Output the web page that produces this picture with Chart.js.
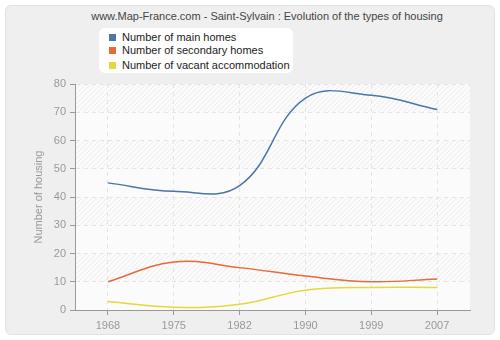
<!DOCTYPE html>
<html>
<head>
<meta charset="utf-8">
<script src="https://cdn.jsdelivr.net/npm/chart.js@4/dist/chart.umd.min.js"></script>
<style>
  html, body { margin: 0; padding: 0; background: #fff; }
  #wrap { position: relative; width: 500px; height: 340px; }
  #panel { position: absolute; left: 5px; top: 5px; width: 488px; height: 328px;
           background: #efefef; border: 1px solid #e2e2e2; border-radius: 6px; }
  #title { position: absolute; left: 0; top: 10px; width: 534px; text-align: center;
           font: 11px "Liberation Sans", Arial, sans-serif; color: #444; }
  #legend { position: absolute; left: 99px; top: 28px; width: 194px; height: 45px;
            background: #fff; border-radius: 6px; font: 11px "Liberation Sans", Arial, sans-serif; color: #222; }
  #legend div { position: absolute; left: 10px; white-space: nowrap; }
  #legend span { display: inline-block; width: 7px; height: 7px; margin-right: 6px; vertical-align: 0px; }
  canvas { position: absolute; left: 0; top: 0; }
</style>
</head>
<body>
<div id="wrap">
  <div id="panel"></div>
  <div id="title">www.Map-France.com - Saint-Sylvain : Evolution of the types of housing</div>
  <div id="legend"></div>
  <canvas id="myChart" width="500" height="340"></canvas>
</div>
<script>
var years = ["1968", "1975", "1982", "1990", "1999", "2007"];
var mainHomes = [45, 42, 44, 75, 76, 71];
var secondaryHomes = [10, 17, 15, 12, 10, 11];
var vacantHomes = [3, 1, 2, 7, 8, 8];
var seriesNames = ["Number of main homes", "Number of secondary homes", "Number of vacant accommodation"];
var seriesColors = ["#4a76a8", "#e8693a", "#e6d83c"];

// striped, hatched plot background
var plotBackground = {
    id: 'plotBackground',
    beforeDraw(chart) {
        var ctx = chart.ctx, a = chart.chartArea, y = chart.scales.y;
        ctx.save();
        ctx.fillStyle = '#fbfbfb';
        ctx.fillRect(a.left, a.top, a.right - a.left, a.bottom - a.top);
        var p = document.createElement('canvas');
        p.width = 5; p.height = 5;
        var pc = p.getContext('2d');
        pc.strokeStyle = '#ececec';
        pc.lineWidth = 1;
        pc.beginPath();
        pc.moveTo(0, 5); pc.lineTo(5, 0);
        pc.moveTo(-1, 1); pc.lineTo(1, -1);
        pc.moveTo(4, 6); pc.lineTo(6, 4);
        pc.stroke();
        ctx.fillStyle = ctx.createPattern(p, 'repeat');
        for (var v = 80; v > 0; v -= 20) {
            var top = y.getPixelForValue(v), bot = y.getPixelForValue(v - 10);
            ctx.fillRect(a.left, top, a.right - a.left, bot - top);
        }
        ctx.restore();
    }
};

var data = {
    labels: years,
    datasets: [mainHomes, secondaryHomes, vacantHomes].map(function (vals, i) {
        return {
            label: seriesNames[i],
            data: vals,
            borderColor: seriesColors[i],
            backgroundColor: seriesColors[i],
            borderWidth: 1.5,
            pointRadius: 0,
            tension: 0.4,
            fill: false
        };
    })
};

var font = { family: '"Liberation Sans", Arial, sans-serif', size: 11 };

var chart = new Chart(document.getElementById('myChart').getContext('2d'), {
    type: 'line',
    data: data,
    plugins: [plotBackground],
    options: {
        responsive: false,
        animation: false,
        layout: { padding: { top: 84, right: 30, left: 32, bottom: 0 } },
        plugins: {
            legend: { display: false },
            title: { display: false },
            tooltip: { enabled: false }
        },
        scales: {
            x: {
                offset: true,
                grid: { offset: false, color: '#e4e4e4', tickColor: '#999', tickLength: 5, tickBorderDash: [] },
                border: { color: '#999', dash: [4, 4] },
                ticks: { color: '#999', font: font, padding: 4 },
                afterFit: function (s) { s.height = 30; }
            },
            y: {
                min: 0,
                max: 80,
                ticks: { stepSize: 10, color: '#999', font: font, padding: 4 },
                grid: { color: '#e4e4e4', tickColor: '#999', tickLength: 5, tickBorderDash: [] },
                border: { color: '#999', dash: [4, 4] },
                title: { display: true, text: 'Number of housing', color: '#999', font: font, padding: 0 },
                afterFit: function (s) { s.width = 43; }
            }
        }
    }
});

// legend from the chart's own datasets
var legend = document.getElementById('legend');
var rowTops = [3, 16, 31];
chart.data.datasets.forEach(function (ds, i) {
    var row = document.createElement('div');
    row.style.top = rowTops[i] + 'px';
    row.innerHTML = '<span style="background:' + ds.borderColor + '"></span>' + ds.label;
    legend.appendChild(row);
});
</script>
</body>
</html>
